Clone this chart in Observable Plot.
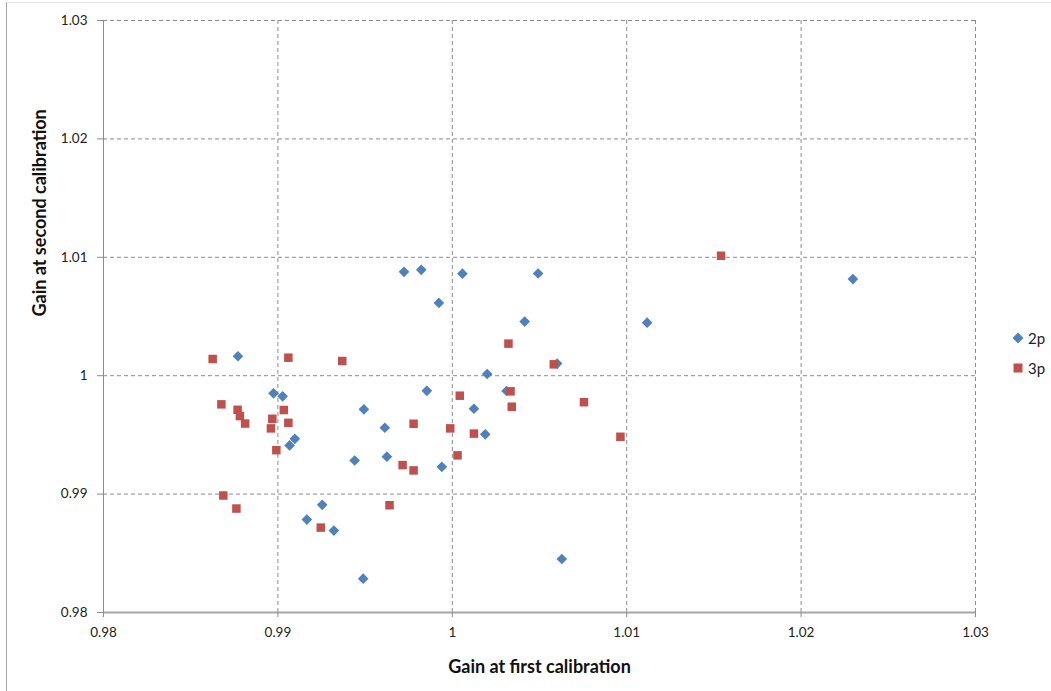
<!DOCTYPE html>
<html>
<head>
<meta charset="utf-8">
<script src="https://cdn.jsdelivr.net/npm/d3@7"></script>
<script src="https://cdn.jsdelivr.net/npm/@observablehq/plot@0.6"></script>
<style>
  html, body { margin: 0; padding: 0; background: #fff; }
  #wrap { position: relative; width: 1051px; height: 691px; overflow: hidden; font-family: Lato, "Open Sans", sans-serif; }
  #frame { position: absolute; left: 6px; top: 2px; width: 1060px; height: 700px; border-left: 1px solid #a6a6a6; border-top: 1px solid #e6e6e6; }
  #legend { position: absolute; left: 1012px; top: 323px; font-size: 15px; color: #222; line-height: 30px; }
  #legend .item { display: flex; align-items: center; gap: 4px; }
  #legend svg { display: block; }
</style>
</head>
<body>
<div id="wrap">
  <div id="frame"></div>
  <div id="chart"></div>
  <div id="legend"></div>
</div>
<script>
// Series "2p" (blue diamonds)
const x2p = [0.98771, 0.98975, 0.99027, 0.99067, 0.99097, 0.99166, 0.99254, 0.99321, 0.99440, 0.99489,
             0.99493, 0.99613, 0.99625, 0.99723, 0.99822, 0.99854, 0.99923, 0.99940, 1.00058, 1.00124,
             1.00189, 1.00200, 1.00311, 1.00415, 1.00492, 1.00601, 1.00628, 1.01117, 1.02297];
const y2p = [1.00164, 0.99851, 0.99826, 0.99411, 0.99467, 0.98785, 0.98909, 0.98692, 0.99284, 0.98286,
             0.99716, 0.99560, 0.99316, 1.00877, 1.00894, 0.99872, 1.00615, 0.99230, 1.00862, 0.99721,
             0.99505, 1.00014, 0.99871, 1.00457, 1.00863, 1.00102, 0.98452, 1.00448, 1.00816];
// Series "3p" (red squares)
const x3p = [0.98626, 0.98676, 0.98687, 0.98762, 0.98769, 0.98782, 0.98812, 0.98960, 0.98968, 0.98991,
             0.99034, 0.99060, 0.99060, 0.99246, 0.99369, 0.99640, 0.99715, 0.99778, 0.99778, 0.99988,
             1.00030, 1.00043, 1.00124, 1.00322, 1.00334, 1.00341, 1.00582, 1.00755, 1.00964, 1.01541];
const y3p = [1.00141, 0.99758, 0.98988, 0.98878, 0.99712, 0.99659, 0.99596, 0.99555, 0.99636, 0.99371,
             0.99710, 1.00152, 0.99602, 0.98717, 1.00124, 0.98906, 0.99245, 0.99594, 0.99200, 0.99555,
             0.99327, 0.99831, 0.99511, 1.00271, 0.99868, 0.99738, 1.00096, 0.99776, 0.99484, 1.01013];

const tickValues = [0.98, 0.99, 1.00, 1.01, 1.02, 1.03];
const tickLabels = ["0.98", "0.99", "1", "1.01", "1.02", "1.03"];
const seriesNames = ["2p", "3p"];
const seriesColors = ["#4F81BD", "#C0504D"];
const xTitle = "Gain at first calibration";
const yTitle = "Gain at second calibration";

const d2p = x2p.map((x, i) => ({x, y: y2p[i]}));
const d3p = x3p.map((x, i) => ({x, y: y3p[i]}));
const fmt = v => tickLabels[tickValues.findIndex(t => Math.abs(t - v) < 1e-9)];

const chart = Plot.plot({
  width: 1051,
  height: 691,
  marginLeft: 103,
  marginRight: 76,
  marginTop: 20,
  marginBottom: 79,
  style: {fontFamily: "Lato, 'Open Sans', sans-serif", fontSize: "13px", color: "#222", background: "transparent"},
  x: {domain: [0.98, 1.03]},
  y: {domain: [0.98, 1.03]},
  marks: [
    Plot.gridX(tickValues.slice(1), {stroke: "#8c8c8c", strokeOpacity: 1, strokeDasharray: "4,3"}),
    Plot.gridY(tickValues.slice(1), {stroke: "#8c8c8c", strokeOpacity: 1, strokeDasharray: "4,3"}),
    Plot.ruleX([0.98], {stroke: "#8c8c8c", strokeWidth: 1}),
    Plot.ruleY([0.98], {stroke: "#a6a6a6", strokeWidth: 2}),
    Plot.axisX(tickValues, {tickFormat: fmt, tickSize: 5, tickPadding: 10, stroke: "#8c8c8c", fontSize: 13.5, label: null}),
    Plot.axisY(tickValues, {tickFormat: fmt, tickSize: 6, tickPadding: 10, stroke: "#8c8c8c", fontSize: 13.5, label: null}),
    Plot.dot(d2p, {x: "x", y: "y", symbol: "diamond2", r: 4.8, fill: seriesColors[0], stroke: "none"}),
    Plot.dot(d3p, {x: "x", y: "y", symbol: "square", r: 4.8, fill: seriesColors[1], stroke: "none"}),
    Plot.text([xTitle], {frameAnchor: "bottom", dy: 60, text: d => d, fontSize: 18, fontWeight: "bold", fill: "#111"}),
    Plot.text([yTitle], {frameAnchor: "left", dx: -63, rotate: -90, text: d => d, fontSize: 18, fontWeight: "bold", fill: "#111"})
  ]
});
document.getElementById("chart").appendChild(chart);

// legend
const legend = document.getElementById("legend");
seriesNames.forEach((name, i) => {
  const item = document.createElement("div");
  item.className = "item";
  const sym = d3.create("svg").attr("width", 12).attr("height", 12);
  if (i === 0) sym.append("path").attr("d", "M6,0.5L11.5,6L6,11.5L0.5,6Z").attr("fill", seriesColors[0]);
  else sym.append("rect").attr("x", 1.5).attr("y", 1.5).attr("width", 9).attr("height", 9).attr("fill", seriesColors[1]);
  item.appendChild(sym.node());
  const label = document.createElement("span");
  label.textContent = name;
  item.appendChild(label);
  legend.appendChild(item);
});
</script>
</body>
</html>
